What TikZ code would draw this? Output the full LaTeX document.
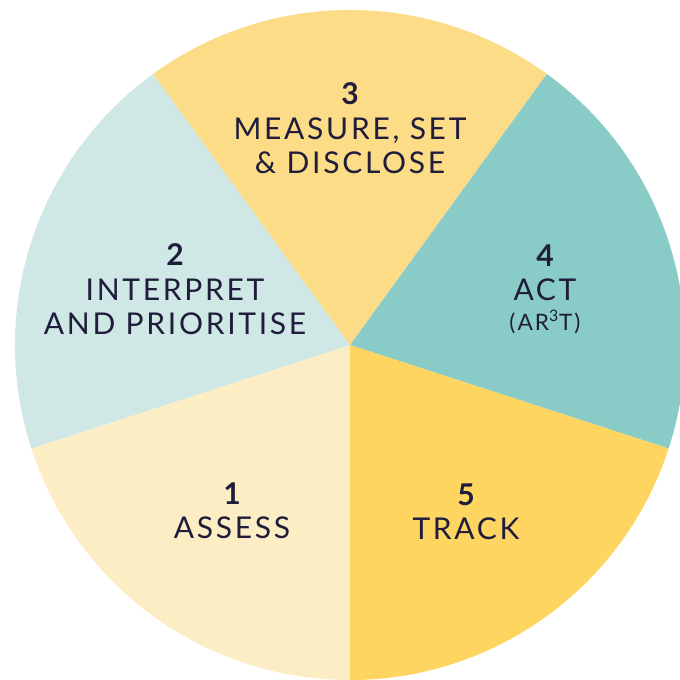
\documentclass[tikz,border=0pt]{standalone}
\usepackage{fontspec}
\setmainfont{Lato}[LetterSpace=9]

\tikzset{every picture/.style={line width=0.75pt}}
\tikzset{steptext/.style={anchor=north, inner sep=0.75pt, align=center, text={rgb, 255:red, 31; green, 29; blue, 59 }, font=\fontsize{22.5}{26}\selectfont}}

\begin{document}
\begin{tikzpicture}[x=0.75pt,y=0.75pt,yscale=-1,xscale=1]
\useasboundingbox (0,0) rectangle (680,680);
\clip (0,0) rectangle (680,680);
\coordinate (c) at (350,345);

%Shape: Sector 1
\fill [fill={rgb, 255:red, 253; green, 237; blue, 196 }  ,fill opacity=1 ] (c) -- ++(90:335) arc [start angle=90, end angle=162, radius=335] -- cycle ;
%Shape: Sector 2
\fill [fill={rgb, 255:red, 207; green, 232; blue, 229 }  ,fill opacity=1 ] (c) -- ++(162:335) arc [start angle=162, end angle=234, radius=335] -- cycle ;
%Shape: Sector 3
\fill [fill={rgb, 255:red, 253; green, 220; blue, 135 }  ,fill opacity=1 ] (c) -- ++(234:335) arc [start angle=234, end angle=306, radius=335] -- cycle ;
%Shape: Sector 4
\fill [fill={rgb, 255:red, 137; green, 204; blue, 199 }  ,fill opacity=1 ] (c) -- ++(306:335) arc [start angle=306, end angle=378, radius=335] -- cycle ;
%Shape: Sector 5
\fill [fill={rgb, 255:red, 254; green, 213; blue, 96 }  ,fill opacity=1 ] (c) -- ++(18:335) arc [start angle=18, end angle=90, radius=335] -- cycle ;

% Text Node
\draw (350,81) node [steptext] (measure) {{\bfseries 3}\\MEASURE, SET\\\& DISCLOSE};
% Text Node
\draw (175,242) node [steptext] (interpret) {{\bfseries 2}\\INTERPRET\\AND PRIORITISE};
% Text Node
\draw (545,243) node [steptext] (act) {{\bfseries 4}\\ACT\\[-4pt]{\fontsize{17}{20}\selectfont (AR\textsuperscript{3}T)}};
% Text Node
\draw (232,481) node [steptext] (assess) {{\bfseries 1}\\ASSESS};
% Text Node
\draw (466,482) node [steptext] (track) {{\bfseries 5}\\TRACK};

\end{tikzpicture}
\end{document}
